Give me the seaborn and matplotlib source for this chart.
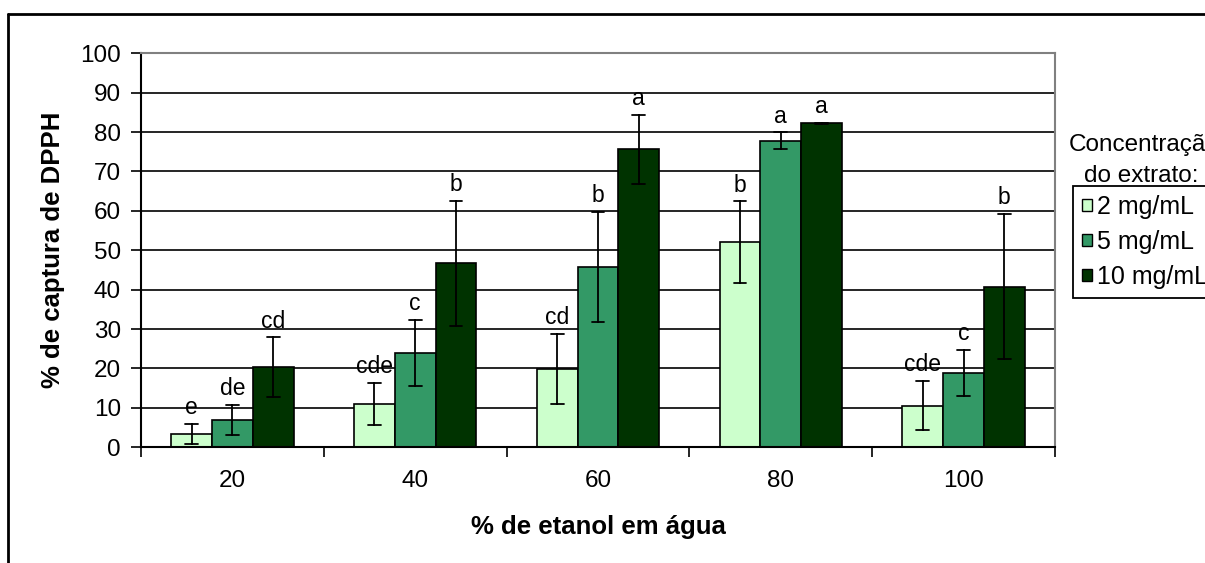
import matplotlib

matplotlib.use("Agg")

import matplotlib.pyplot as plt
from matplotlib.lines import Line2D
import numpy as np
import pandas as pd
import seaborn as sns


ETANOL = ["20", "40", "60", "80", "100"]
CONCENTRACOES = ["2 mg/mL", "5 mg/mL", "10 mg/mL"]

MEAN_2 = [3.4, 11.0, 19.9, 52.0, 10.6]
MEAN_5 = [6.9, 24.0, 45.7, 77.8, 18.9]
MEAN_10 = [20.3, 46.7, 75.6, 82.2, 40.8]

SD_2 = [2.5, 5.3, 8.8, 10.4, 6.3]
SD_5 = [3.8, 8.4, 14.0, 2.1, 5.8]
SD_10 = [7.6, 15.8, 8.8, 0.2, 18.5]

LETRAS_2 = ["e", "cde", "cd", "b", "cde"]
LETRAS_5 = ["de", "c", "b", "a", "c"]
LETRAS_10 = ["cd", "b", "a", "a", "b"]

CORES = ["#CCFFCC", "#339966", "#003300"]


def build_frame() -> pd.DataFrame:
    # two rows per bar (mean - sd, mean + sd) so seaborn draws mean and range
    rows = []
    for conc, means, sds in zip(CONCENTRACOES, [MEAN_2, MEAN_5, MEAN_10], [SD_2, SD_5, SD_10]):
        for et, m, s in zip(ETANOL, means, sds):
            rows.append({"etanol": et, "conc": conc, "valor": m - s})
            rows.append({"etanol": et, "conc": conc, "valor": m + s})
    return pd.DataFrame(rows)


def main() -> None:
    sns.set_theme(style="white")
    plt.rcParams["font.family"] = ["Liberation Sans", "DejaVu Sans"]
    for key in ["text.color", "axes.labelcolor", "xtick.color", "ytick.color"]:
        plt.rcParams[key] = "black"

    df = build_frame()
    W, H = 1205, 563
    fig = plt.figure(figsize=(W / 100, H / 100), dpi=100)
    ax = fig.add_axes([141 / W, 1 - 447.3 / H, 914 / W, 394 / H])

    sns.barplot(
        data=df,
        x="etanol",
        y="valor",
        hue="conc",
        order=ETANOL,
        hue_order=CONCENTRACOES,
        palette=CORES,
        estimator="mean",
        errorbar=lambda v: (v.min(), v.max()),
        width=0.67,
        gap=0,
        saturation=1,
        edgecolor="black",
        linewidth=1.2,
        capsize=0.21,
        err_kws={"color": "black", "linewidth": 1.3},
        ax=ax,
    )

    # letters above the error bars
    means = [MEAN_2, MEAN_5, MEAN_10]
    sds = [SD_2, SD_5, SD_10]
    letras = [LETRAS_2, LETRAS_5, LETRAS_10]
    for k, cont in enumerate(ax.containers):
        for i, bar in enumerate(cont):
            xc = bar.get_x() + bar.get_width() / 2
            ax.annotate(
                letras[k][i],
                (xc, means[k][i] + sds[k][i]),
                xytext=(0, 7),
                textcoords="offset points",
                ha="center",
                va="baseline",
                fontsize=16.5,
                color="black",
            )

    ax.set_ylim(0, 100)
    ax.set_xlim(-0.5, 4.5)
    ax.set_yticks(np.arange(0, 101, 10))
    ax.yaxis.grid(True, color="black", linewidth=1.2)
    ax.xaxis.grid(False)
    ax.set_axisbelow(True)

    ax.tick_params(axis="y", which="major", left=True, length=7.5, width=1.2,
                   direction="out", pad=7, labelsize=17.5, color="black")
    ax.tick_params(axis="x", which="major", bottom=True, length=0, pad=16, labelsize=17.5)
    ax.set_xticks(np.arange(-0.5, 5, 1), minor=True)
    ax.tick_params(axis="x", which="minor", bottom=True, length=7.5, width=1.2,
                   direction="out", color="black")

    for side in ["left", "bottom"]:
        ax.spines[side].set_color("black")
        ax.spines[side].set_linewidth(1.5)
    for side in ["top", "right"]:
        ax.spines[side].set_color("#808080")
        ax.spines[side].set_linewidth(1.5)

    ax.set_ylabel("% de captura de DPPH", fontsize=18.5, fontweight="bold")
    ax.set_xlabel("% de etanol em água", fontsize=18.5, fontweight="bold")
    ax.yaxis.set_label_coords(-0.083, 0.5)
    ax.xaxis.set_label_coords(0.5, -0.172)

    sns.move_legend(
        ax,
        "upper left",
        bbox_to_anchor=(1.0197, 0.664),
        borderaxespad=0,
        title=None,
        frameon=True,
        fancybox=False,
        framealpha=1,
        edgecolor="black",
        fontsize=18,
        handlelength=0.38,
        handleheight=0.38,
        handletextpad=0.2,
        borderpad=0.36,
        labelspacing=0.44,
    )
    leg = ax.get_legend()
    leg.get_frame().set_linewidth(1.3)
    for p in leg.get_patches():
        p.set_edgecolor("black")
        p.set_linewidth(1)

    fig.text(1069 / W, 1 - 145 / H, "Concentração", ha="left", va="center", fontsize=17.5)
    fig.text(1084 / W, 1 - 176 / H, "do extrato:", ha="left", va="center", fontsize=17.5)

    # outer chart frame (only top and left visible in the crop)
    fig.add_artist(Line2D([8 / W, 8 / W], [0, 1 - 14 / H], transform=fig.transFigure,
                          color="black", linewidth=2))
    fig.add_artist(Line2D([8 / W, 1], [1 - 14 / H, 1 - 14 / H], transform=fig.transFigure,
                          color="black", linewidth=2))

    fig.savefig("out.png", dpi=100)
    plt.close(fig)


if __name__ == "__main__":
    main()
